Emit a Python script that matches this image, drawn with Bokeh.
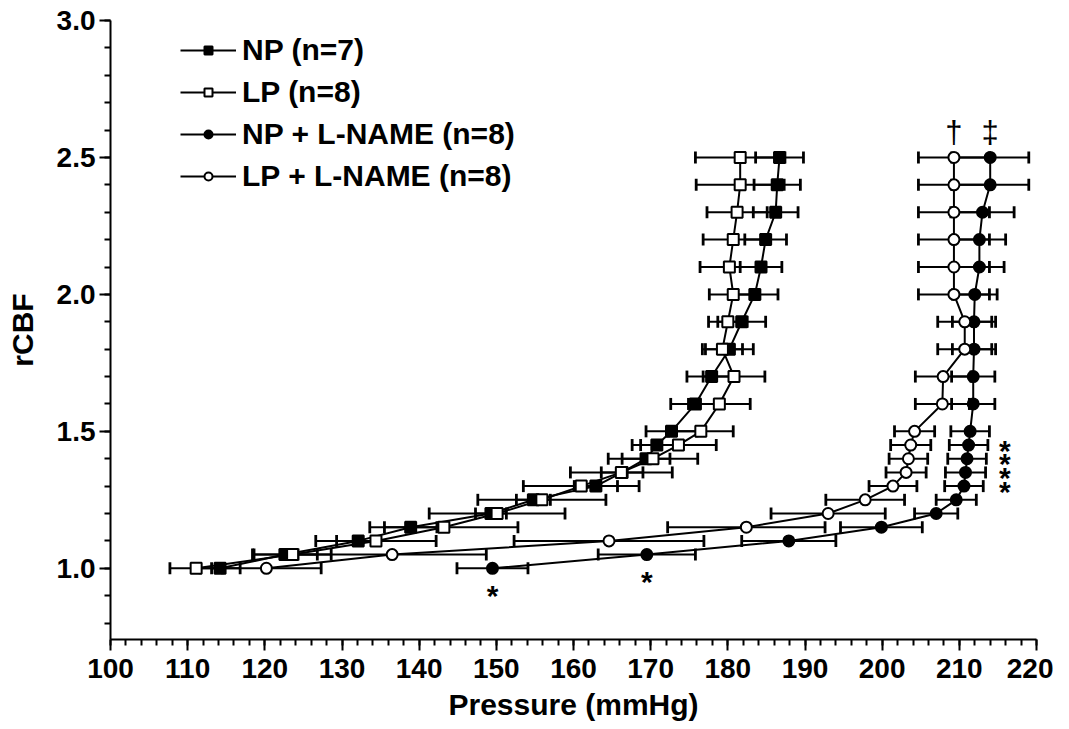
from bokeh.plotting import figure
from bokeh.models import (ColumnDataSource, Whisker, TeeHead, FixedTicker, Legend,
                          LegendItem, Range1d, NumeralTickFormatter)
from bokeh.core.properties import value
from bokeh.embed import file_html
from bokeh.resources import INLINE

# ---------------- data ----------------
y_levels = [1.0, 1.05, 1.1, 1.15, 1.2, 1.25, 1.3, 1.35, 1.4, 1.45, 1.5,
            1.6, 1.7, 1.8, 1.9, 2.0, 2.1, 2.2, 2.3, 2.4, 2.5]

np_x = [114.2, 122.6, 132.1, 138.9, 149.3, 154.8, 162.9, 166.3, 169.4, 170.8, 172.7,
        175.8, 177.9, 180.2, 181.8, 183.5, 184.3, 184.9, 186.2, 186.4, 186.7]
np_err = [2.6, 4.2, 2.8, 3.4, 2.0, 2.2, 2.8, 2.7, 3.1, 3.2, 3.3,
          3.2, 3.2, 3.1, 3.1, 3.0, 2.7, 2.7, 2.9, 3.0, 3.1]

lp_x = [111.1, 123.6, 134.4, 143.2, 150.1, 155.9, 161.0, 166.2, 170.3, 173.6, 176.5,
        178.9, 180.8, 179.3, 180.0, 180.7, 180.2, 180.7, 181.2, 181.6, 181.6]
lp_err = [3.4, 5.0, 7.8, 9.6, 8.8, 8.3, 7.5, 6.6, 5.8, 4.9, 4.2,
          4.0, 4.0, 2.6, 2.5, 3.1, 3.8, 3.9, 3.9, 5.7, 5.8]

npl_x = [149.5, 169.5, 187.9, 199.9, 207.0, 209.6, 210.6, 210.8, 211.0, 211.2, 211.4,
         211.8, 211.8, 211.9, 211.9, 212.0, 212.6, 212.6, 213.0, 214.0, 214.0]
npl_err = [4.6, 6.3, 6.1, 5.3, 2.8, 2.6, 2.5, 2.6, 2.5, 2.5, 2.5,
           2.8, 2.8, 2.8, 2.8, 2.9, 3.2, 3.4, 4.1, 5.0, 5.0]

lpl_x = [120.2, 136.5, 164.6, 182.4, 193.0, 197.8, 201.4, 203.1, 203.4, 203.7, 204.2,
         207.8, 207.9, 210.7, 210.7, 209.3, 209.3, 209.3, 209.3, 209.3, 209.3]
lpl_err = [7.1, 12.2, 12.3, 10.2, 7.4, 5.1, 3.1, 2.6, 2.5, 2.6, 2.6,
           3.5, 3.6, 3.5, 3.5, 4.6, 4.6, 4.6, 4.6, 4.6, 4.6]

labels = ["NP (n=7)", "LP (n=8)", "NP + L-NAME (n=8)", "LP + L-NAME (n=8)"]
markers = ["square", "square", "circle", "circle"]
fills = ["black", "white", "black", "white"]

# significance marks
star_low_idx = [0, 1]                 # NP + L-NAME points marked below
star_right_y = [1.30, 1.35, 1.40, 1.45]
star_right_x = 215.9

x_major = [100, 110, 120, 130, 140, 150, 160, 170, 180, 190, 200, 210, 220]
x_minor = list(range(100, 221, 2))
y_major = [1.0, 1.5, 2.0, 2.5, 3.0]
y_minor = [round(0.8 + 0.1 * i, 2) for i in range(23)]

FONT = "Liberation Sans"

p = figure(frame_width=926, frame_height=619, output_backend="svg",
           toolbar_location=None, x_range=Range1d(100, 220), y_range=Range1d(0.74, 3.0),
           min_border_left=110, min_border_right=17, min_border_top=20, min_border_bottom=74)
p.outline_line_color = None
p.xgrid.visible = False
p.ygrid.visible = False
p.background_fill_color = "white"
p.border_fill_color = "white"

for ax in (p.xaxis[0], p.yaxis[0]):
    ax.axis_line_width = 2
    ax.major_tick_line_width = 2
    ax.minor_tick_line_width = 2
    ax.major_tick_out = 11
    ax.major_tick_in = 0
    ax.minor_tick_out = 6
    ax.minor_tick_in = 0
    ax.major_label_text_font = FONT
    ax.major_label_text_font_style = "bold"
    ax.major_label_text_font_size = "28px"
    ax.major_label_text_color = "black"
    ax.axis_label_text_font = FONT
    ax.axis_label_text_font_style = "bold"
    ax.axis_label_text_font_size = "30px"
    ax.axis_label_text_color = "black"

p.xaxis.ticker = FixedTicker(ticks=x_major, minor_ticks=x_minor)
p.yaxis.ticker = FixedTicker(ticks=y_major, minor_ticks=y_minor)
p.yaxis.formatter = NumeralTickFormatter(format="0.0")
p.xaxis.axis_label = "Pressure (mmHg)"
p.yaxis.axis_label = "rCBF"
p.xaxis.major_label_standoff = 8
p.yaxis.major_label_standoff = 4
p.xaxis.axis_label_standoff = 7
p.yaxis.axis_label_standoff = 15

series = [(np_x, np_err), (lp_x, lp_err), (npl_x, npl_err), (lpl_x, lpl_err)]
items = []
for (xs, es), lab, mk, fc in zip(series, labels, markers, fills):
    src = ColumnDataSource(dict(x=xs, y=y_levels,
                                lo=[a - b for a, b in zip(xs, es)],
                                hi=[a + b for a, b in zip(xs, es)]))
    w = Whisker(base="y", lower="lo", upper="hi", dimension="width", source=src,
                line_color="black", line_width=2, level="underlay",
                upper_head=TeeHead(size=12, line_width=2.8, line_color="black"),
                lower_head=TeeHead(size=12, line_width=2.8, line_color="black"))
    p.add_layout(w)
    lr = p.line("x", "y", source=src, line_color="black", line_width=2)
    sr = p.scatter("x", "y", source=src, marker=mk, size=11, fill_color=fc,
                   line_color="black", line_width=2)
    items.append(LegendItem(label=lab, renderers=[lr, sr]))

# stars
p.text(x=[npl_x[i] for i in star_low_idx], y=[y_levels[i] for i in star_low_idx],
       text=["*"] * len(star_low_idx), text_font=value(FONT), text_font_style="bold",
       text_font_size="30px", text_align="center", text_baseline="alphabetic",
       y_offset=27, text_color="black")
p.text(x=[star_right_x] * len(star_right_y), y=star_right_y,
       text=["*"] * len(star_right_y), text_font=value(FONT), text_font_style="bold",
       text_font_size="30px", text_align="center", text_baseline="alphabetic",
       y_offset=5, text_color="black")
p.text(x=[lpl_x[-1], npl_x[-1]], y=[y_levels[-1], y_levels[-1]], text=["\u2020", "\u2021"],
       text_font=value(FONT), text_font_size="31px", text_align="center",
       text_baseline="alphabetic", y_offset=-25, text_color="black")

legend = Legend(items=items, location=(70, 446), glyph_width=56, glyph_height=20,
                label_text_font=FONT, label_text_font_style="bold",
                label_text_font_size="30px", label_text_color="black",
                label_standoff=6, spacing=8,
                padding=0, margin=0, border_line_color=None,
                background_fill_alpha=0)
p.add_layout(legend, "center")

open("out.html", "w").write(file_html(p, INLINE))
